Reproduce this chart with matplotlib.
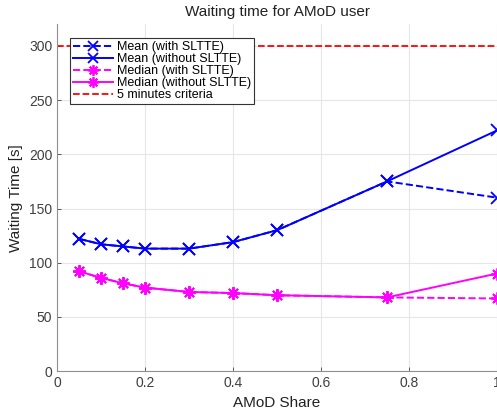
import matplotlib
matplotlib.use('Agg')
from matplotlib import pyplot as plt

plt.rcParams['font.family'] = ['Liberation Sans', 'DejaVu Sans']

share = [0.05, 0.1, 0.15, 0.2, 0.3, 0.4, 0.5, 0.75, 1.0]
mean_with = [122, 117, 115, 113, 113, 119, 130, 175, 160]
mean_without = [122, 117, 115, 113, 113, 119, 130, 175, 222]
median_with = [92, 86, 81, 77, 73, 72, 70, 68, 67]
median_without = [92, 86, 81, 77, 73, 72, 70, 68, 90]
criteria = 300

fig = plt.figure(figsize=(4.97, 4.17), dpi=100)
ax = fig.add_axes([0.115, 0.11, 0.885, 0.832])

star = (8, 2, 0)
ax.plot(share, mean_with, '--x', color='#0000ff', lw=1.4, ms=8, mew=1.3, label='Mean (with SLTTE)')
ax.plot(share, mean_without, '-x', color='#0000ff', lw=1.4, ms=8, mew=1.3, label='Mean (without SLTTE)')
ax.plot(share, median_with, '--', marker=star, color='#ff00ff', lw=1.4, ms=9, mew=1.3, label='Median (with SLTTE)')
ax.plot(share, median_without, '-', marker=star, color='#ff00ff', lw=1.4, ms=9, mew=1.3, label='Median (without SLTTE)')
ax.plot([0, 1], [criteria, criteria], '--', color='#ff0000', lw=1.3, label='5 minutes criteria')

ax.set_xlim(0, 1)
ax.set_ylim(0, 320)
ax.set_xticks([0, 0.2, 0.4, 0.6, 0.8, 1])
ax.set_xticklabels(['0', '0.2', '0.4', '0.6', '0.8', '1'])
ax.set_yticks([0, 50, 100, 150, 200, 250, 300])
ax.grid(color='#e6e6e6', lw=0.8)
ax.set_axisbelow(True)
for s in ['top', 'right']:
    ax.spines[s].set_visible(False)
for s in ['left', 'bottom']:
    ax.spines[s].set_color('#909090')
ax.tick_params(colors='#404040', labelsize=10, direction='in', length=3, width=0.6)

ax.set_title('Waiting time for AMoD user', fontsize=11, color='#222222')
ax.set_xlabel('AMoD Share', fontsize=11, color='#222222')
ax.set_ylabel('Waiting Time [s]', fontsize=11, color='#222222')

leg = ax.legend(loc='upper left', bbox_to_anchor=(0.03, 0.96), fontsize=9, fancybox=False,
                framealpha=1, edgecolor='#333333', handlelength=3.2, handletextpad=0.3,
                borderpad=0.25, labelspacing=0.0, borderaxespad=0, markerscale=0.85)
leg.get_frame().set_linewidth(0.8)

plt.savefig('out.png', dpi=100)
